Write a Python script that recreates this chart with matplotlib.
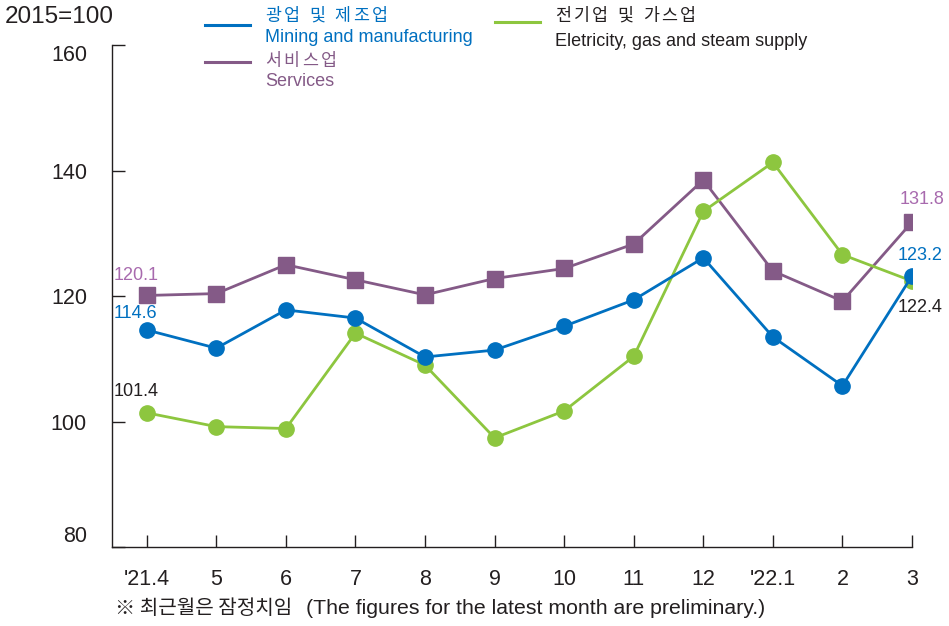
import matplotlib.pyplot as plt
import numpy as np

plt.rcParams['font.family'] = ['Liberation Sans', 'Noto Sans CJK KR', 'DejaVu Sans']

months = ["'21.4", '5', '6', '7', '8', '9', '10', '11', '12', "'22.1", '2', '3']
mining = [114.6, 111.7, 117.8, 116.5, 110.3, 111.4, 115.2, 119.4, 126.1, 113.5, 105.7, 123.2]
services = [120.1, 120.4, 125.0, 122.6, 120.2, 122.8, 124.4, 128.3, 138.5, 124.0, 119.2, 131.8]
electricity = [101.4, 99.2, 98.9, 114.1, 109.0, 97.4, 101.7, 110.4, 133.5, 141.3, 126.6, 122.4]

blue = '#0070C0'
green = '#8DC63F'
purple = '#845A87'
purple_lbl = '#A86AAE'
dark = '#231F20'
KOR = ['Noto Sans CJK KR', 'DejaVu Sans']

fig = plt.figure(figsize=(9.49, 6.26), dpi=100)
ax = fig.add_axes([0.118, 0.126, 0.843, 0.802])

x = np.arange(len(months))
ax.plot(x, electricity, color=green, lw=2, marker='o', ms=11, zorder=3)
ax.plot(x, services, color=purple, lw=2, marker='s', ms=12, zorder=2)
ax.plot(x, mining, color=blue, lw=2, marker='o', ms=11, zorder=4)

ax.set_xlim(-0.5, 11)
ax.set_ylim(80, 160)
ax.set_xticks(x)
ax.set_xticklabels(months)
ax.set_yticks([80, 100, 120, 140, 160])
ax.tick_params(axis='both', direction='in', length=9, width=1, color=dark,
               labelsize=15.5, labelcolor=dark)
ax.tick_params(axis='x', pad=16)
ax.tick_params(axis='y', pad=18)
ylabels = ax.get_yticklabels()
ylabels[0].set_va('bottom')
ylabels[-1].set_va('top')
for s in ['top', 'right']:
    ax.spines[s].set_visible(False)
for s in ['left', 'bottom']:
    ax.spines[s].set_color(dark)
    ax.spines[s].set_linewidth(1)

# value labels for first and last month (offsets in pixels)
def lbl(i, v, color, dx, dy):
    ax.annotate(f'{v:.1f}', (i, v), xytext=(dx * 0.72, dy * 0.72), textcoords='offset points',
                ha='center', va='center', fontsize=13, color=color)

lbl(0, services[0], purple_lbl, -11, 20)
lbl(0, mining[0], blue, -11, 16)
lbl(0, electricity[0], dark, -11, 21)
lbl(11, services[-1], purple_lbl, 10, 23)
lbl(11, mining[-1], blue, 8, 21)
lbl(11, electricity[-1], dark, 8, -26)

# korean text with a bit of letter spacing
def hangul(x0, y0, s, color, size=12.5, pitch=18.5, space=7):
    cx = x0
    for ch in s:
        if ch == ' ':
            cx += space
            continue
        fig.text(cx / 949, 1 - y0 / 626, ch, fontsize=size, color=color,
                 family=KOR, va='center', ha='left')
        cx += pitch

# legend drawn by hand
def leg(x0, y0, color, kor, ky, eng, ey, txt_color):
    fig.lines.append(plt.Line2D([x0 / 949, (x0 + 45) / 949], [1 - y0 / 626] * 2,
                                color=color, lw=2.2, transform=fig.transFigure))
    hangul(x0 + 60, ky, kor, txt_color)
    fig.text((x0 + 60) / 949, 1 - ey / 626, eng, fontsize=13, color=txt_color, va='center')

leg(205, 25, blue, '광업 및 제조업', 16, 'Mining and manufacturing', 38, blue)
leg(205, 62, purple, '서비스업', 61, 'Services', 81, purple)
leg(495, 22, green, '전기업 및 가스업', 16, 'Eletricity, gas and steam supply', 41, dark)

fig.text(5 / 949, 1 - 17 / 626, '2015=100', fontsize=17.5, color=dark, va='center')
fig.text(115 / 949, 1 - 609 / 626, '※ 최근월은 잠정치임', fontsize=14.5, color=dark,
         va='center', family=KOR)
fig.text(306 / 949, 1 - 609 / 626, '(The figures for the latest month are preliminary.)',
         fontsize=15.3, color=dark, va='center')

fig.savefig('out.png', dpi=100)
